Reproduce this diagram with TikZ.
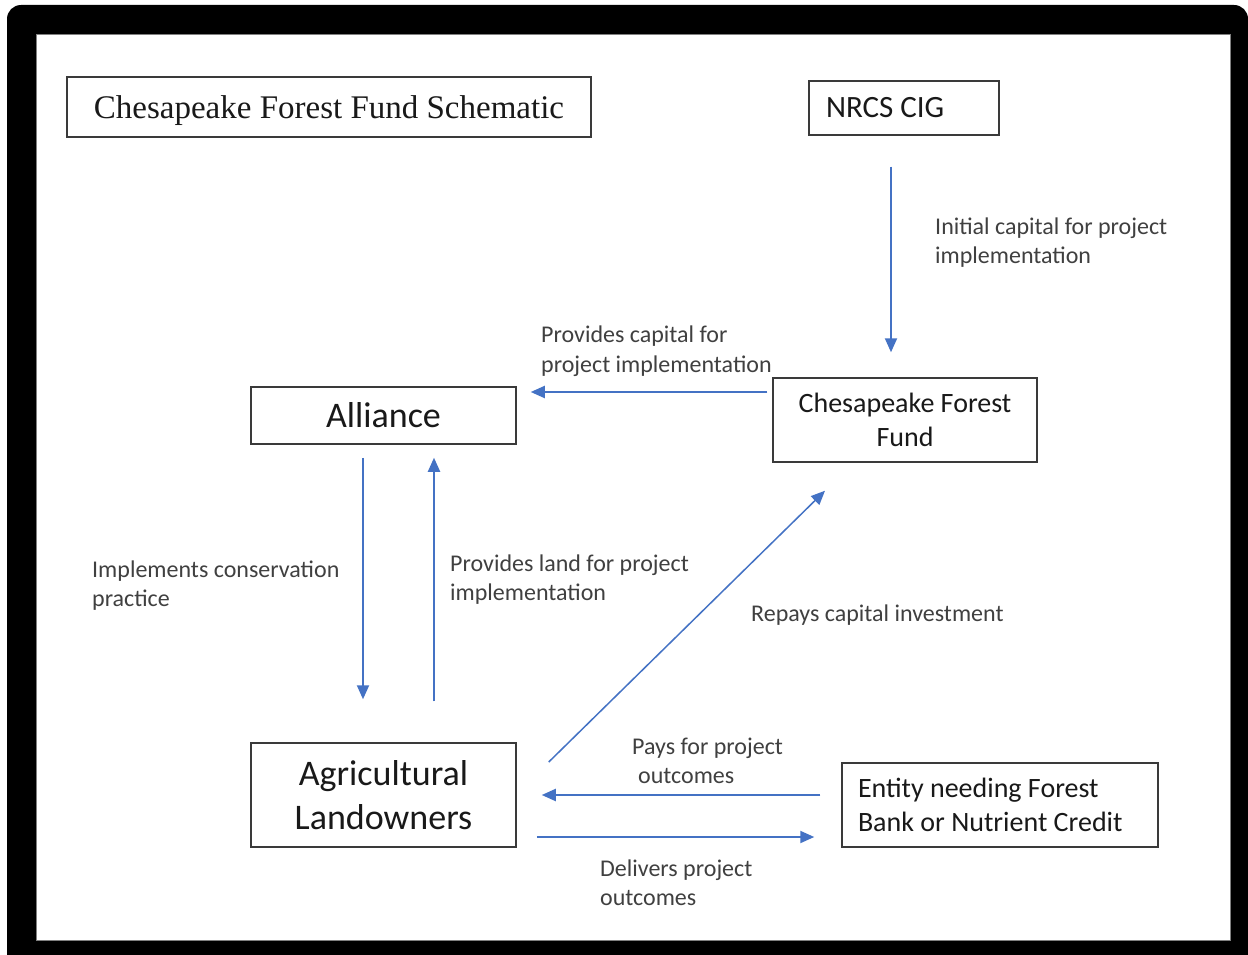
\documentclass[tikz,border=0pt]{standalone}
\usepackage{fontspec}
\setmainfont{Carlito}
\newfontfamily\titlefont{Liberation Serif}
\usetikzlibrary{arrows.meta}
\definecolor{arrowblue}{HTML}{4472C4}
\definecolor{labelgray}{HTML}{404040}
\definecolor{boxline}{HTML}{3A3A3A}
\begin{document}
\begin{tikzpicture}[x=1pt,y=-1pt,
  box/.style={draw=boxline, line width=1.5pt, fill=white, inner sep=0pt, align=center, text=black!90},
  lbl/.style={anchor=west, inner sep=0pt, align=flush left, text=labelgray, font=\fontsize{24}{29.5}\selectfont},
  arr/.style={draw=arrowblue, line width=2pt, -{Triangle[length=14pt,width=12pt]}}
]
\useasboundingbox (0,0) rectangle (1248,955);
% frame
\fill[black] (7,955) {[rounded corners=14pt] -- (7,5) -- (1248,5)} -- (1248,955) -- cycle;
\fill[white] (36,34) rectangle (1230,940);
\draw[gray, line width=0.8pt] (36,34) rectangle (1230,940);

% boxes
\node[box, line width=2.5pt, minimum width=524pt, minimum height=60pt, font=\titlefont\fontsize{33}{38}\selectfont] (title) at (329,107) {\raisebox{-4pt}[\height][\depth]{Chesapeake Forest Fund Schematic}};
\node[box, minimum width=190pt, minimum height=54pt, text width=156pt, inner xsep=17pt, align=flush left, font=\fontsize{31}{38}\selectfont] (nrcs) at (904,108) {NRCS CIG};
\node[box, minimum width=264pt, minimum height=84pt, font=\fontsize{28}{34}\selectfont] (cff) at (905,420) {Chesapeake Forest\\Fund};
\node[box, minimum width=265pt, minimum height=57pt, font=\fontsize{36}{44}\selectfont] (alliance) at (383.5,415.5) {Alliance};
\node[box, minimum width=265pt, minimum height=104pt, font=\fontsize{36}{44}\selectfont] (al) at (383.5,795) {Agricultural\\Landowners};
\node[box, minimum width=316pt, minimum height=84pt, text width=284pt, inner xsep=16pt, align=flush left, font=\fontsize{28}{34}\selectfont] (entity) at (1000,805) {Entity needing Forest\\Bank or Nutrient Credit};

% connectors
\draw[arr] ([xshift=-13pt,yshift=-31pt]nrcs.south) -- ([xshift=-14pt,yshift=25pt]cff.north);
\draw[arr] ([xshift=-5pt,yshift=28pt]cff.west) -- ([xshift=14pt,yshift=23.5pt]alliance.east);
\draw[arr] ([xshift=-20.5pt,yshift=-13pt]alliance.south) -- ([xshift=-20.5pt,yshift=43pt]al.north);
\draw[arr] ([xshift=50.5pt,yshift=41pt]al.north) -- ([xshift=50.5pt,yshift=-13pt]alliance.south);
\draw[arr, line width=1.5pt] ([xshift=32pt,yshift=33pt]al.east) -- ([xshift=-80pt,yshift=-28pt]cff.south);
\draw[arr] ([xshift=-21pt,yshift=10pt]entity.west) -- ([xshift=25pt]al.east);
\draw[arr] ([xshift=20pt,yshift=-42pt]al.east) -- ([xshift=-27pt,yshift=-32pt]entity.west);

% labels
\node[lbl] (l1) at (935,242.5) {Initial capital for project\\implementation};
\node[lbl] (l2) at (541,351) {Provides capital for\\project implementation};
\node[lbl] (l3) at (92,585.5) {Implements conservation\\practice};
\node[lbl] (l4) at (450,579.5) {Provides land for project\\implementation};
\node[lbl] (l5) at (751,615) {Repays capital investment};
\node[lbl] (l6) at (632,761) {Pays for project\\\hspace*{6pt}outcomes};
\node[lbl] (l7) at (600,882.5) {Delivers project\\outcomes};
\end{tikzpicture}
\end{document}
